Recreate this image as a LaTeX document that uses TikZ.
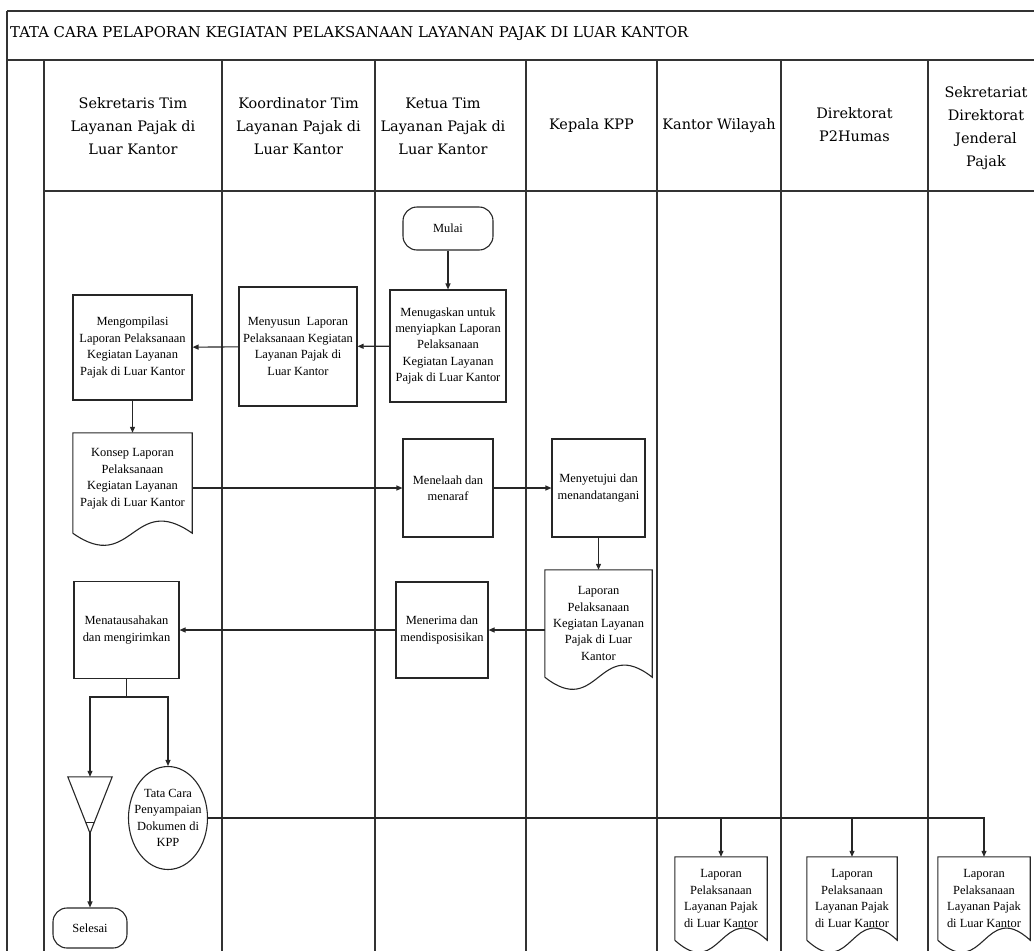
\documentclass[tikz,border=0pt]{standalone}
\usepackage{fontspec}
\setmainfont{Liberation Serif}
\newfontfamily\hdrfont{DejaVu Serif}
\usetikzlibrary{arrows.meta,shapes.geometric,calc}
\newcommand\boxfont{\fontsize{12.5}{16.5}\selectfont}
\newcommand\hdrtext{\hdrfont\fontsize{14.5}{23}\selectfont}
\newcommand\titletext{\hdrfont\fontsize{14.9}{18}\selectfont}
\tikzset{
  lane/.style={draw=black!80, line width=1.2bp},
  shp/.style={draw=black!85, line width=1.1bp},
  procbox/.style={shp, rectangle, align=center, inner sep=1bp, font=\boxfont},
  term/.style={procbox, rounded corners=14bp},
  doctext/.style={rectangle, align=center, inner sep=1bp, font=\boxfont},
  hdr/.style={align=center, font=\hdrtext, inner sep=0},
  flow/.style={draw=black!85, line width=1.1bp, -{Triangle[length=6bp,width=5bp]}},
  link/.style={draw=black!85, line width=1.1bp},
}
\newcommand\docshape[2]{%
  \draw[shp] (#1.south west) -- (#1.north west) -- (#1.north east) -- (#1.south east)
    .. controls +(-#2/2,-42) and +(#2/2,42) .. (#1.south west);}
\begin{document}
\begin{tikzpicture}[x=1bp,y=-1bp]
\useasboundingbox (0,0) rectangle (1034,951);
\clip (0,0) rectangle (1034,951);
% frame and lanes
\draw[lane] (7,11) -- (1040,11);
\draw[lane] (7,60) -- (1040,60);
\draw[lane] (7,11) -- (7,960);
\draw[lane] (44,60) -- (44,960);
\draw[lane] (44,191) -- (1040,191);
\foreach \xx in {222,375,526,657,781,928}{\draw[lane] (\xx,60) -- (\xx,960);}
% title and headers
\node[anchor=west, font=\titletext, inner sep=0] (title) at (10,34) {TATA CARA PELAPORAN KEGIATAN PELAKSANAAN LAYANAN PAJAK DI LUAR KANTOR};
\node[hdr] (h1) at (133,126) {Sekretaris Tim\\Layanan Pajak di\\Luar Kantor};
\node[hdr] (h2) at (298.5,126) {Koordinator Tim\\Layanan Pajak di\\Luar Kantor};
\node[hdr] (h3) at (443,126) {Ketua Tim\\Layanan Pajak di\\Luar Kantor};
\node[hdr] (h4) at (591.5,126) {Kepala KPP};
\node[hdr] (h5) at (719,126) {Kantor Wilayah};
\node[hdr] (h6) at (854.5,125) {Direktorat\\P2Humas};
\node[hdr] (h7) at (986,128) {Sekretariat\\Direktorat\\Jenderal\\Pajak};
% flow nodes
\node[term, minimum width=90bp, minimum height=43bp] (mulai) at (448,228.5) {Mulai};
\node[procbox, minimum width=116bp, minimum height=112bp] (tugas) at (448,346) {Menugaskan untuk\\menyiapkan Laporan\\Pelaksanaan\\Kegiatan Layanan\\Pajak di Luar Kantor};
\node[procbox, minimum width=118bp, minimum height=119bp] (susun) at (298,346.5) {Menyusun~~Laporan\\Pelaksanaan Kegiatan\\Layanan Pajak di\\Luar Kantor};
\node[procbox, minimum width=119bp, minimum height=105bp] (kompil) at (132.5,347.5) {Mengompilasi\\Laporan Pelaksanaan\\Kegiatan Layanan\\Pajak di Luar Kantor};
\node[doctext, minimum width=119bp, minimum height=100bp] (konsep) at (132.5,483) {Konsep Laporan\\Pelaksanaan\\Kegiatan Layanan\\Pajak di Luar Kantor\\[-5bp]};
\docshape{konsep}{119}
\node[procbox, minimum width=90bp, minimum height=98bp] (telaah) at (448,488) {Menelaah dan\\menaraf};
\node[procbox, minimum width=93bp, minimum height=98bp] (setuju) at (598.5,488) {Menyetujui dan\\menandatangani};
\node[doctext, minimum width=107bp, minimum height=107bp] (lapdoc) at (598.5,623.5) {Laporan\\Pelaksanaan\\Kegiatan Layanan\\Pajak di Luar\\Kantor};
\docshape{lapdoc}{107}
\node[procbox, minimum width=92bp, minimum height=96bp] (terima) at (442,630) {Menerima dan\\mendisposisikan};
\node[procbox, minimum width=105bp, minimum height=97bp] (tatausaha) at (126.5,630) {Menatausahakan\\dan mengirimkan};
\coordinate (br) at (126.5,697);
\node[minimum width=44bp, minimum height=56bp, inner sep=0] (arsip) at (90,805) {};
\draw[shp] (arsip.north west) -- (arsip.north east) -- (arsip.south) -- cycle;
\draw[shp] ($(arsip.south)+(-4.3,-11)$) -- ($(arsip.south)+(4.3,-11)$);
\node[shp, ellipse, minimum width=79bp, minimum height=103bp, inner sep=0] (tcp) at (168,818) {};
\node[doctext] (tcptext) at (tcp) {Tata Cara\\Penyampaian\\Dokumen di\\KPP};
\node[term, minimum width=74bp, minimum height=40bp] (selesai) at (90,928) {Selesai};
\node[doctext, minimum width=92bp, minimum height=83bp] (doca) at (721,898.5) {Laporan\\Pelaksanaan\\Layanan Pajak\\di Luar Kantor};
\docshape{doca}{92}
\node[doctext, minimum width=90bp, minimum height=83bp] (docb) at (852,898.5) {Laporan\\Pelaksanaan\\Layanan Pajak\\di Luar Kantor};
\docshape{docb}{90}
\node[doctext, minimum width=92bp, minimum height=83bp] (docc) at (984,898.5) {Laporan\\Pelaksanaan\\Layanan Pajak\\di Luar Kantor};
\docshape{docc}{92}
% connectors
\draw[flow] (mulai) -- (tugas);
\draw[flow] (tugas) -- (susun);
\draw[flow] (susun) -- (kompil);
\draw[flow] (kompil) -- (konsep);
\draw[flow] (telaah.west -| konsep.east) -- (telaah.west);
\draw[flow] (telaah) -- (setuju);
\draw[flow] (setuju) -- (lapdoc);
\draw[flow] (terima.east -| lapdoc.west) -- (terima.east);
\draw[flow] (terima) -- (tatausaha);
\draw[link] (tatausaha.south) -- (br);
\draw[flow] (br) -| (arsip.north);
\draw[flow] (br) -| (tcp.north);
\draw[flow] (arsip.south) -- (selesai.north);
\draw[flow] (tcp.east) -| (docc.north);
\draw[flow] (tcp.east -| doca.north) -- (doca.north);
\draw[flow] (tcp.east -| docb.north) -- (docb.north);
\end{tikzpicture}
\end{document}
